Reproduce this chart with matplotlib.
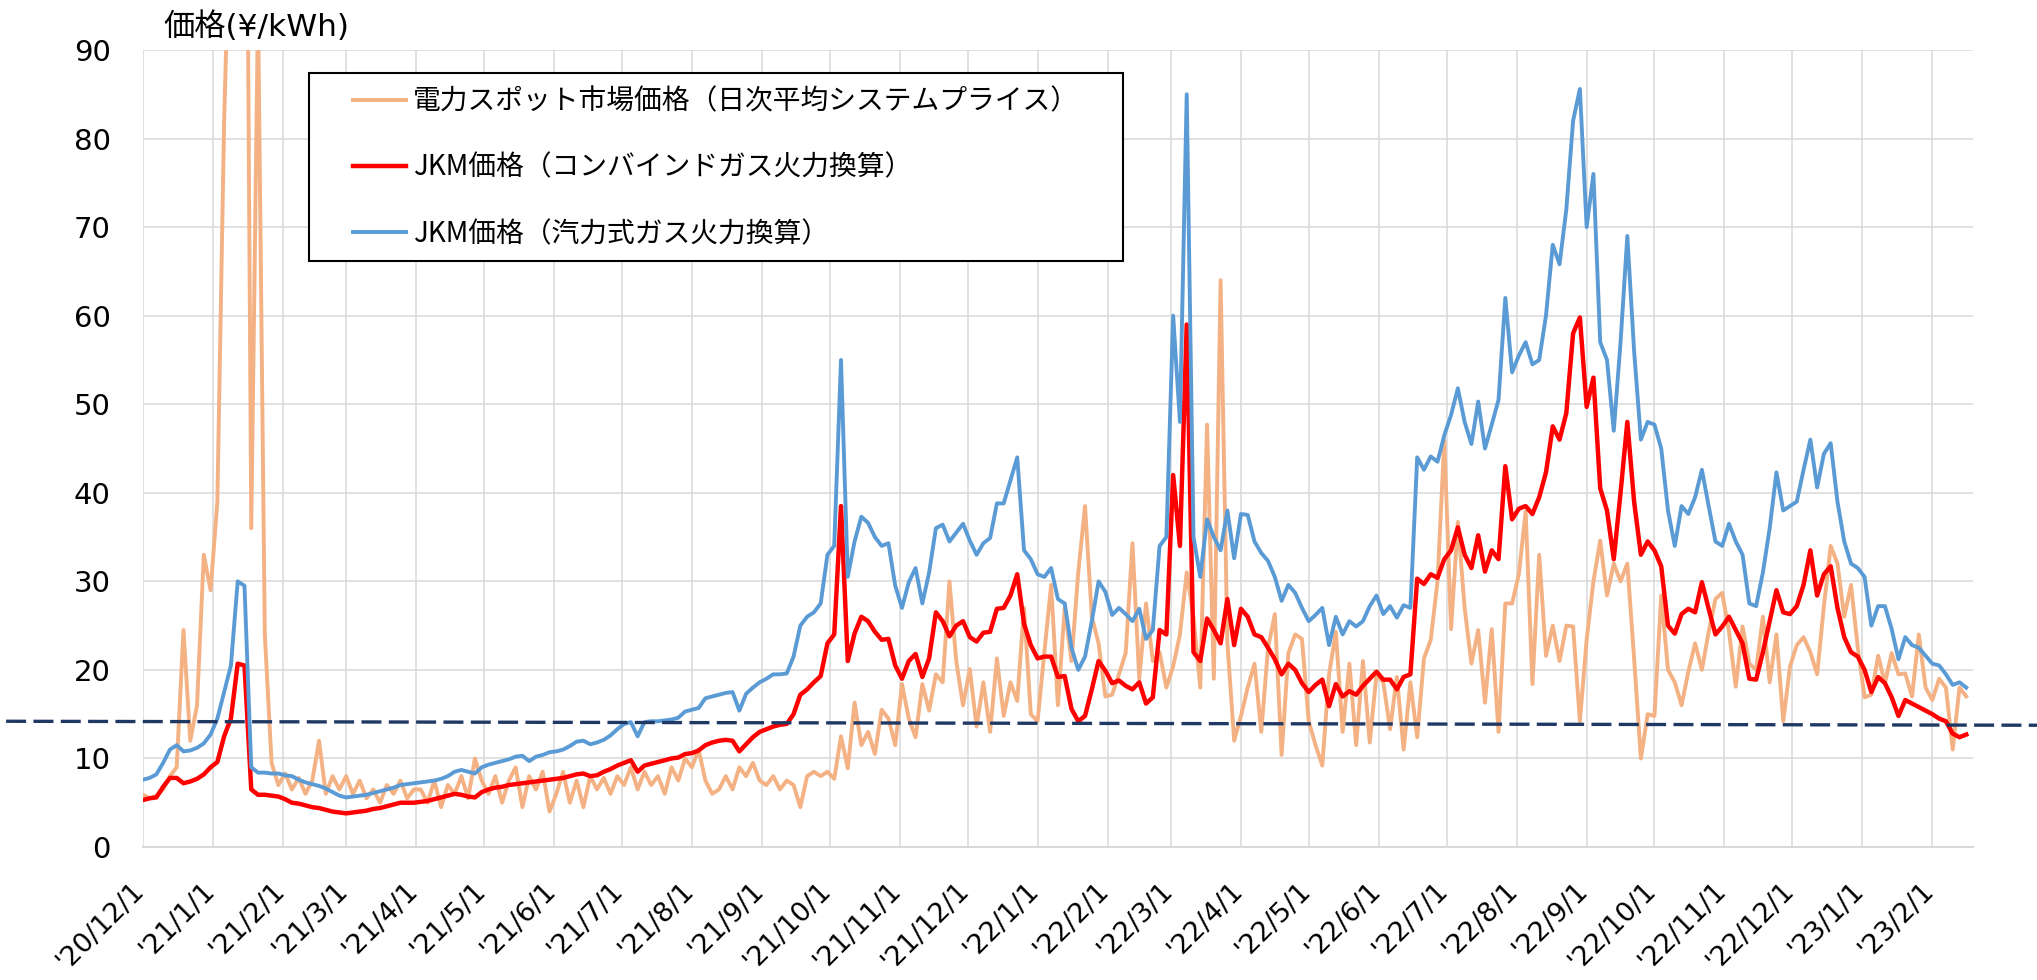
import matplotlib
matplotlib.use("Agg")
import matplotlib.pyplot as plt
from matplotlib.patches import Rectangle
from matplotlib.lines import Line2D
from matplotlib.transforms import ScaledTranslation, blended_transform_factory
import pandas as pd

plt.rcParams['font.family'] = ['DejaVu Sans', 'Noto Sans CJK JP']

# all series every 3 days starting 2020-12-01 (one line per month)
start = '2020-12-01'

spot = [
    5.9, 5.5, 5.8, 6.5, 8.0, 9.0, 24.5, 12.0, 16.0, 33.0, 29.0,       # '20/12
    39.0, 82.0, 110.0, 122.0, 154.0, 36.0, 95.0, 24.0, 9.5, 7.0,      # '21/1
    8.3, 6.5, 7.8, 6.0, 7.5, 12.0, 6.0, 8.0, 6.5,                     # '21/2
    8.0, 6.0, 7.5, 5.5, 6.5, 5.0, 7.0, 6.0, 7.5, 5.5, 6.5,            # '21/3
    6.5, 5.0, 7.5, 4.5, 7.0, 6.0, 8.0, 5.5, 10.0, 7.5,                # '21/4
    6.0, 8.0, 5.0, 7.5, 9.0, 4.5, 8.0, 6.5, 8.5, 4.0,                 # '21/5
    6.0, 8.5, 5.0, 7.5, 4.5, 8.0, 6.5, 7.8, 6.0, 8.0,                 # '21/6
    7.0, 9.0, 6.5, 8.5, 7.0, 8.0, 6.0, 9.0, 7.5, 10.0,                # '21/7
    9.0, 11.0, 7.5, 6.0, 6.5, 8.0, 6.5, 9.0, 8.0, 9.5, 7.5,           # '21/8
    7.0, 8.0, 6.5, 7.5, 7.0, 4.5, 8.0, 8.5, 8.0, 8.5,                 # '21/9
    7.7, 12.5, 8.9, 16.3, 11.5, 13.0, 10.5, 15.5, 14.5, 11.5,         # '21/10
    18.4, 14.5, 12.4, 18.4, 15.4, 19.5, 18.6, 30.0, 21.0, 16.0,       # '21/11
    20.1, 13.6, 18.6, 13.0, 21.3, 14.8, 18.6, 16.5, 27.0, 15.0,       # '21/12
    14.2, 22.0, 29.6, 16.0, 27.0, 21.0, 31.0, 38.5, 26.0, 23.0, 17.0, # '22/1
    17.2, 19.5, 21.9, 34.3, 19.0, 27.5, 21.0, 22.0, 18.0,             # '22/2
    20.4, 24.0, 31.0, 26.0, 18.0, 47.7, 19.0, 64.0, 23.0, 12.0,       # '22/3
    14.8, 18.0, 20.7, 13.0, 22.5, 26.3, 10.4, 21.9, 24.0, 23.5,       # '22/4
    14.2, 11.5, 9.2, 19.5, 24.3, 13.0, 20.7, 11.5, 21.0, 11.8, 19.5,  # '22/5
    18.6, 13.3, 19.2, 11.0, 18.6, 12.4, 21.3, 23.4, 30.0, 45.9,       # '22/6
    24.6, 36.7, 27.0, 20.7, 24.5, 16.3, 24.6, 13.0, 27.5, 27.5,       # '22/7
    30.8, 37.9, 18.4, 33.0, 21.6, 25.0, 21.0, 25.0, 24.9, 14.2,       # '22/8
    23.4, 30.0, 34.6, 28.4, 32.0, 30.0, 32.0, 21.3, 10.0, 15.0,       # '22/9
    14.8, 28.4, 20.0, 18.6, 16.0, 19.8, 23.0, 20.0, 24.3, 28.0, 28.7, # '22/10
    24.3, 18.1, 24.9, 20.7, 20.0, 26.0, 18.6, 24.0, 14.2, 20.4,       # '22/11
    22.8, 23.7, 22.0, 19.5, 27.2, 34.0, 32.0, 26.0, 29.6, 22.5,       # '22/12
    16.9, 17.2, 21.6, 18.5, 21.9, 19.5, 19.6, 17.0, 24.0, 18.0,       # '23/1
    16.6, 19.0, 18.0, 11.0, 18.0, 17.0,                               # '23/2
]

jkm_combined = [
    5.3, 5.5, 5.6, 6.8, 7.8, 7.8, 7.2, 7.4, 7.7, 8.2, 9.0,            # '20/12
    9.6, 12.5, 14.5, 20.7, 20.5, 6.5, 5.9, 5.9, 5.8, 5.7,             # '21/1
    5.4, 5.0, 4.9, 4.7, 4.5, 4.4, 4.2, 4.0, 3.9,                      # '21/2
    3.8, 3.9, 4.0, 4.1, 4.3, 4.4, 4.6, 4.8, 5.0, 5.0, 5.0,            # '21/3
    5.1, 5.2, 5.4, 5.6, 5.8, 6.0, 5.9, 5.7, 5.6, 6.2,                 # '21/4
    6.5, 6.7, 6.8, 7.0, 7.1, 7.2, 7.3, 7.4, 7.5, 7.6,                 # '21/5
    7.7, 7.8, 8.0, 8.2, 8.3, 8.0, 8.1, 8.5, 8.8, 9.2,                 # '21/6
    9.5, 9.8, 8.5, 9.2, 9.4, 9.6, 9.8, 10.0, 10.1, 10.5,              # '21/7
    10.6, 10.9, 11.5, 11.8, 12.0, 12.1, 12.0, 10.8, 11.6, 12.4, 13.0, # '21/8
    13.3, 13.6, 13.8, 13.9, 15.0, 17.2, 17.8, 18.6, 19.3, 23.0,       # '21/9
    24.0, 38.5, 21.0, 24.1, 26.0, 25.5, 24.3, 23.4, 23.5, 20.5,       # '21/10
    19.0, 21.0, 21.8, 19.2, 21.3, 26.5, 25.5, 23.8, 25.0, 25.5,       # '21/11
    23.7, 23.2, 24.2, 24.3, 26.9, 27.0, 28.4, 30.8, 25.2, 22.8,       # '21/12
    21.3, 21.5, 21.5, 19.2, 19.3, 15.6, 14.2, 14.8, 17.8, 21.0, 19.9, # '22/1
    18.5, 18.8, 18.2, 17.8, 18.6, 16.2, 16.9, 24.5, 24.0,             # '22/2
    42.0, 34.0, 59.0, 22.0, 21.0, 25.8, 24.5, 23.0, 28.0, 22.8,       # '22/3
    26.9, 26.0, 24.0, 23.7, 22.5, 21.2, 19.5, 20.7, 20.0, 18.5,       # '22/4
    17.5, 18.3, 18.9, 15.9, 18.4, 17.0, 17.6, 17.2, 18.2, 19.0, 19.8, # '22/5
    18.9, 18.9, 17.8, 19.2, 19.5, 30.3, 29.7, 30.8, 30.4, 32.5,       # '22/6
    33.5, 36.1, 33.0, 31.5, 35.2, 31.1, 33.5, 32.5, 43.0, 37.0,       # '22/7
    38.2, 38.5, 37.6, 39.5, 42.3, 47.5, 46.0, 49.0, 58.0, 59.8,       # '22/8
    49.7, 53.0, 40.5, 38.0, 32.5, 40.0, 48.0, 39.0, 33.0, 34.5,       # '22/9
    33.5, 31.7, 25.0, 24.1, 26.3, 26.9, 26.5, 29.9, 26.9, 24.0, 24.9, # '22/10
    26.0, 24.5, 23.0, 19.0, 18.9, 22.0, 25.5, 29.0, 26.5, 26.3,       # '22/11
    27.2, 29.6, 33.5, 28.4, 30.8, 31.7, 27.0, 23.7, 22.0, 21.5,       # '22/12
    20.0, 17.5, 19.2, 18.5, 16.9, 14.8, 16.6, 16.2, 15.8, 15.4,       # '23/1
    15.0, 14.5, 14.2, 12.8, 12.4, 12.7,                               # '23/2
]

jkm_steam = [
    7.6, 7.8, 8.2, 9.5, 11.0, 11.5, 10.8, 10.9, 11.2, 11.7, 12.7,     # '20/12
    14.5, 17.5, 20.5, 30.0, 29.5, 9.0, 8.4, 8.4, 8.3, 8.3,            # '21/1
    8.1, 8.0, 7.6, 7.3, 7.1, 6.9, 6.6, 6.2, 5.8,                      # '21/2
    5.6, 5.7, 5.8, 5.9, 6.1, 6.3, 6.5, 6.7, 7.0, 7.1, 7.2,            # '21/3
    7.3, 7.4, 7.5, 7.7, 8.0, 8.5, 8.7, 8.5, 8.3, 9.0,                 # '21/4
    9.3, 9.5, 9.7, 9.9, 10.2, 10.3, 9.7, 10.2, 10.4, 10.7,            # '21/5
    10.8, 11.0, 11.4, 11.9, 12.0, 11.6, 11.8, 12.1, 12.6, 13.3,       # '21/6
    13.9, 14.1, 12.5, 14.1, 14.2, 14.2, 14.3, 14.4, 14.6, 15.3,       # '21/7
    15.5, 15.7, 16.8, 17.0, 17.2, 17.4, 17.5, 15.4, 17.3, 18.0, 18.6, # '21/8
    19.0, 19.5, 19.5, 19.6, 21.5, 25.0, 26.0, 26.5, 27.5, 33.0,       # '21/9
    34.0, 55.0, 30.5, 34.5, 37.3, 36.6, 35.0, 34.0, 34.3, 29.5,       # '21/10
    27.0, 29.9, 31.5, 27.5, 31.0, 36.0, 36.4, 34.5, 35.5, 36.5,       # '21/11
    34.6, 33.0, 34.3, 34.9, 38.8, 38.8, 41.4, 44.0, 33.5, 32.5,       # '21/12
    30.8, 30.5, 31.5, 28.0, 27.5, 22.5, 20.0, 21.5, 25.5, 30.0, 28.8, # '22/1
    26.2, 27.0, 26.3, 25.5, 26.9, 23.5, 24.5, 34.0, 35.0,             # '22/2
    60.0, 48.0, 85.0, 35.0, 30.5, 37.0, 35.0, 33.5, 38.0, 32.6,       # '22/3
    37.6, 37.5, 34.5, 33.2, 32.3, 30.5, 27.8, 29.6, 28.7, 27.0,       # '22/4
    25.5, 26.2, 27.0, 22.8, 26.0, 24.0, 25.5, 24.9, 25.5, 27.2, 28.4, # '22/5
    26.3, 27.2, 25.9, 27.3, 27.0, 44.0, 42.6, 44.1, 43.5, 46.5,       # '22/6
    48.8, 51.8, 48.0, 45.5, 50.3, 45.0, 47.7, 50.5, 62.0, 53.6,       # '22/7
    55.5, 57.0, 54.5, 55.0, 60.0, 68.0, 65.8, 72.0, 82.0, 85.6,       # '22/8
    70.0, 76.0, 57.0, 55.0, 47.0, 57.0, 69.0, 56.0, 46.0, 48.0,       # '22/9
    47.7, 45.0, 38.0, 34.0, 38.5, 37.6, 39.5, 42.6, 38.5, 34.5, 34.0, # '22/10
    36.5, 34.5, 33.0, 27.5, 27.2, 31.0, 36.0, 42.3, 38.0, 38.5,       # '22/11
    39.0, 42.6, 46.0, 40.6, 44.4, 45.6, 39.0, 34.5, 32.0, 31.5,       # '22/12
    30.5, 25.0, 27.2, 27.2, 24.6, 21.2, 23.7, 22.8, 22.5, 21.6,       # '23/1
    20.7, 20.5, 19.5, 18.3, 18.6, 18.0,                               # '23/2
]

series_labels = ['電力スポット市場価格（日次平均システムプライス）',
                 'JKM価格（コンバインドガス火力換算）',
                 'JKM価格（汽力式ガス火力換算）']
series_colors = ['#F4B183', '#FF0000', '#5B9BD5']

month_ticks = pd.date_range('2020-12-01', '2023-02-01', freq='MS')
tick_labels = ["'20/12/1",
               "'21/1/1", "'21/2/1", "'21/3/1", "'21/4/1", "'21/5/1", "'21/6/1",
               "'21/7/1", "'21/8/1", "'21/9/1", "'21/10/1", "'21/11/1", "'21/12/1",
               "'22/1/1", "'22/2/1", "'22/3/1", "'22/4/1", "'22/5/1", "'22/6/1",
               "'22/7/1", "'22/8/1", "'22/9/1", "'22/10/1", "'22/11/1", "'22/12/1",
               "'23/1/1", "'23/2/1"]

# hand-drawn dashed reference line (value at left and right edge of figure)
ref_line = [14.2, 13.75]

assert len(spot) == len(jkm_combined) == len(jkm_steam) == 270

fig = plt.figure(figsize=(20.37, 9.8), dpi=100)
ax = fig.add_axes([0.0701, 0.1357, 0.8985, 0.8133])

for values, label, color, lw in zip([spot, jkm_combined, jkm_steam], series_labels,
                                    series_colors, [2.8, 3.2, 2.8]):
    dates = pd.date_range(start, periods=len(values), freq='3D')
    ax.plot(dates, values, color=color, lw=lw, label=label, solid_joinstyle='round')

ax.set_xlim(pd.Timestamp('2020-12-01'), pd.Timestamp('2023-02-19'))
ax.set_ylim(0, 90)
ax.set_yticks(range(0, 91, 10))
ax.set_xticks(month_ticks)
ax.set_xticklabels(tick_labels, rotation=45, ha='right', va='top')
ax.tick_params(axis='x', length=0, pad=22, labelsize=19.5)
ax.tick_params(axis='y', length=0, pad=23, labelsize=21)
offset = ScaledTranslation(5 / 72, 0, fig.dpi_scale_trans)
for lab in ax.get_xticklabels():
    lab.set_transform(lab.get_transform() + offset)

ax.set_axisbelow(True)
ax.grid(True, color='#D9D9D9', lw=1.1)
for s in ['top', 'right', 'left']:
    ax.spines[s].set_visible(False)
ax.spines['bottom'].set_color('#D9D9D9')
ax.spines['bottom'].set_linewidth(1.5)

# legend frame drawn separately (wider side padding than matplotlib's legend allows)
ax.add_patch(Rectangle((0.0909, 0.7353), 0.4447, 0.2359, transform=ax.transAxes,
                       facecolor='white', edgecolor='black', lw=1.5, zorder=4, clip_on=False))
ax.legend(loc='upper left', bbox_to_anchor=(0.1149, 0.9540), borderaxespad=0, borderpad=0,
          frameon=False, handlelength=1.9, handletextpad=0.25, labelspacing=1.3,
          prop={'family': ['Noto Sans CJK JP', 'DejaVu Sans'], 'size': 20})

fig.text(0.080, 0.9724, '価格(¥/kWh)', fontsize=22.5, va='center', ha='left')

trans = blended_transform_factory(fig.transFigure, ax.transData)
fig.add_artist(Line2D([0.003, 1.0], ref_line, transform=trans, color='#203864',
                      lw=2.4, linestyle=(0, (6, 2.2))))

fig.savefig('out.png', dpi=100)
